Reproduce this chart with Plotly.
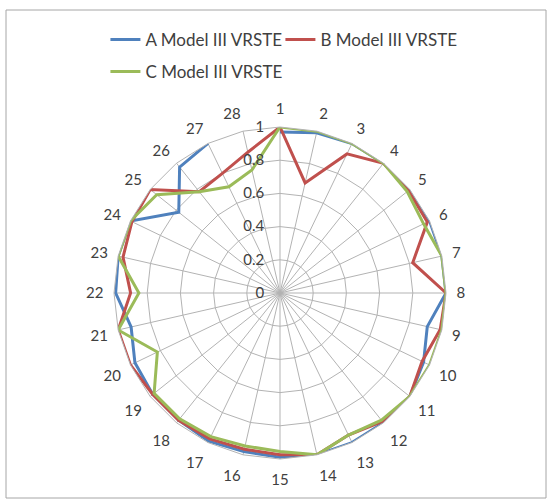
import plotly.graph_objects as go

categories = [str(i) for i in range(1, 29)]

series_a = [0.97, 0.99, 1.0, 1.0, 1.0, 1.0, 1.0, 1.0, 0.91, 0.96,
            1.0, 1.0, 1.0, 1.0, 0.99, 0.98, 0.99, 0.98, 0.98, 0.97,
            0.92, 0.99, 1.0, 1.0, 0.78, 0.97, 1.0, None]
series_b = [1.0, 0.68, 0.93, 1.0, 0.99, 0.985, 0.82, 1.0, 0.99, 0.95,
            1.0, 0.99, 0.95, 1.0, 0.975, 0.965, 0.975, 0.98, 0.98, 1.0,
            1.0, 0.90, 0.97, 0.99, 1.0, 0.78, 0.80, 0.87]
series_c = [1.0, 1.0, 1.0, 1.0, 0.98, 0.96, 1.0, 1.0, 1.0, 1.0,
            1.0, 0.98, 0.95, 1.0, 0.955, 0.945, 0.96, 0.97, 0.97, 0.82,
            1.0, 0.85, 1.0, 1.0, 0.95, 0.78, 0.71, 0.76]

radial_ticks = [0, 0.2, 0.4, 0.6, 0.8, 1]
radial_labels = ["0", "0.2", "0.4", "0.6", "0.8", "1"]

names = ["A Model III VRSTE", "B Model III VRSTE", "C Model III VRSTE"]
colors = ["#4F81BD", "#C0504D", "#9BBB59"]
legends = ["legend", "legend3", "legend2"]

fig = go.Figure()
for vals, name, col, lg in zip([series_a, series_b, series_c], names, colors, legends):
    fig.add_trace(go.Scatterpolar(
        r=vals + [vals[0]],
        theta=categories + [categories[0]],
        mode="lines",
        name=name,
        line=dict(color=col, width=3),
        connectgaps=False,
        legend=lg,
        showlegend=True,
    ))

W, H = 552, 502
cx, cy, R = 280, 293, 166

leg_common = dict(orientation="h", xanchor="left", yanchor="middle",
                  font=dict(size=17, color="#404040"), bgcolor="rgba(0,0,0,0)")

fig.update_layout(
    width=W, height=H,
    showlegend=True,
    margin=dict(l=0, r=0, t=0, b=0),
    paper_bgcolor="white",
    font=dict(family="Lato, Open Sans, sans-serif", color="#404040", size=13),
    polar=dict(
        domain=dict(x=[(cx - R) / W, (cx + R) / W], y=[1 - (cy + R) / H, 1 - (cy - R) / H]),
        bgcolor="white",
        gridshape="linear",
        radialaxis=dict(
            range=[0, 1], tickvals=radial_ticks, ticktext=radial_labels,
            angle=90, tickangle=90, side="counterclockwise",
            showline=False, ticks="outside", ticklen=10, tickcolor="rgba(0,0,0,0)",
            gridcolor="#b3b3b3", gridwidth=1,
            tickfont=dict(size=15, color="#404040"),
        ),
        angularaxis=dict(
            direction="clockwise", rotation=90, type="category",
            categoryarray=categories, categoryorder="array",
            showline=True, linecolor="#b3b3b3", linewidth=1,
            gridcolor="#b3b3b3", gridwidth=1,
            ticks="outside", ticklen=7, tickcolor="rgba(0,0,0,0)",
            tickfont=dict(size=15, color="#404040"),
        ),
    ),
    legend=dict(x=0.191, y=1 - 40 / H, **leg_common),
    legend3=dict(x=0.508, y=1 - 40 / H, **leg_common),
    legend2=dict(x=0.191, y=1 - 72 / H, **leg_common),
    shapes=[dict(type="rect", xref="paper", yref="paper",
                 x0=6 / W, x1=546 / W, y0=1 - 498 / H, y1=1 - 10 / H,
                 line=dict(color="#a6a6a6", width=1), fillcolor="rgba(0,0,0,0)", layer="below")],
)

fig.write_html("out.html", config={"displayModeBar": False},
               post_script="document.body.style.margin='0';")
